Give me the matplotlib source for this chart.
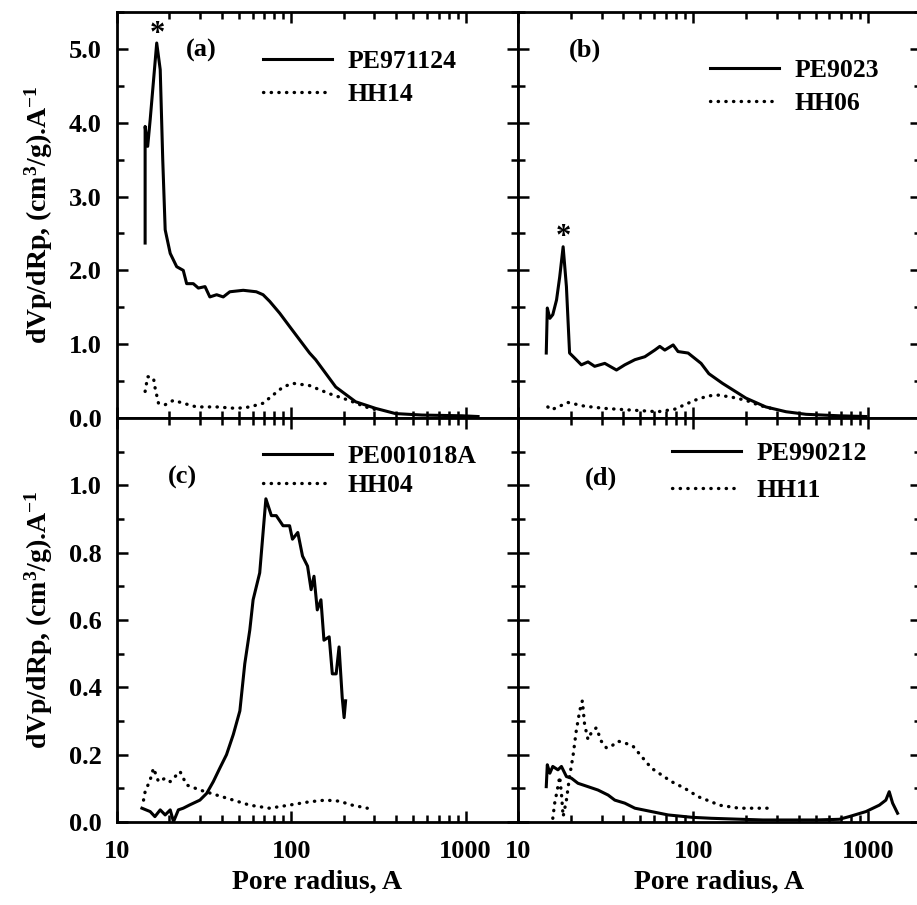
import numpy as np
import matplotlib
matplotlib.use('Agg')
import matplotlib.pyplot as plt
from matplotlib.ticker import FixedLocator, LogLocator, NullFormatter, FormatStrFormatter

plt.rcParams['font.family'] = 'Liberation Serif'
plt.rcParams['font.weight'] = 'bold'
plt.rcParams['mathtext.fontset'] = 'custom'
plt.rcParams['mathtext.rm'] = 'Liberation Serif:bold'
plt.rcParams['mathtext.it'] = 'Liberation Serif:bold'
plt.rcParams['mathtext.bf'] = 'Liberation Serif:bold'

# (a) PE971124 / HH14
a_pe_x = [14.5, 14.5, 15.0, 15.5, 16.9, 17.7, 18.3, 18.9, 20.2, 22.0, 24.0, 25.1, 27.4, 29.3, 32.0,
          34.1, 37.3, 40.7, 44.4, 53, 63, 68.9, 75.2, 85.8, 97.8, 106.8, 127.4, 138, 180, 234,
          305, 396, 562, 955, 1180]
a_pe_y = [2.37, 3.95, 3.68, 4.04, 5.08, 4.72, 3.50, 2.55, 2.23, 2.05, 2.0, 1.82, 1.82, 1.76, 1.78,
          1.64, 1.67, 1.64, 1.71, 1.73, 1.71, 1.67, 1.58, 1.42, 1.24, 1.12, 0.88, 0.79, 0.42, 0.22,
          0.13, 0.06, 0.04, 0.03, 0.02]
a_hh_x = [14.5, 15.0, 16.2, 16.5, 17.3, 18.9, 21.1, 24, 28.6, 37.3, 48.5, 57.8, 68.9, 78.5, 89.7,
          102, 127, 165, 214, 267, 320]
a_hh_y = [0.36, 0.56, 0.54, 0.42, 0.20, 0.18, 0.24, 0.20, 0.15, 0.15, 0.13, 0.15, 0.20, 0.31, 0.42,
          0.47, 0.44, 0.33, 0.24, 0.15, 0.10]

# (b) PE9023 / HH06
b_pe_x = [14.5, 14.7, 15.2, 15.8, 16.6, 17.3, 18.1, 18.9, 19.7, 21.1, 23.0, 25.1, 27.4, 31.3, 36.5,
          40.7, 46.5, 53, 60.4, 64.5, 68.9, 76.9, 82, 93.6, 111, 123, 147, 200, 260, 339, 441,
          682, 970]
b_pe_y = [0.88, 1.49, 1.35, 1.40, 1.60, 1.91, 2.32, 1.78, 0.88, 0.81, 0.72, 0.76, 0.70, 0.74, 0.65,
          0.72, 0.79, 0.83, 0.92, 0.97, 0.92, 0.99, 0.90, 0.88, 0.74, 0.60, 0.47, 0.27, 0.15, 0.085, 0.05,
          0.03, 0.02]
b_hh_x = [14.8, 15.5, 16.9, 19.3, 24, 31.3, 42.5, 63, 78.5, 89.6, 102, 122, 140, 168, 200, 240, 300]
b_hh_y = [0.15, 0.11, 0.15, 0.21, 0.16, 0.13, 0.11, 0.085, 0.12, 0.18, 0.24, 0.30, 0.31, 0.28, 0.24,
          0.17, 0.11]

# (c) PE001018A / HH04
c_pe_x = [13.9, 15.5, 16.5, 17.7, 18.9, 20.2, 21.1, 22.5, 24, 26.2, 29.9, 32.7, 35.7, 38.9, 42.5,
          46.5, 50.7, 54.1, 57.8, 60.4, 65.9, 71.5, 76.9, 82, 89.7, 97.8, 101.6, 109, 116, 124,
          130, 135, 141, 148, 154, 165, 172, 181, 188, 196, 201, 205]
c_pe_y = [0.041, 0.031, 0.016, 0.036, 0.021, 0.036, 0.001, 0.036, 0.041, 0.051, 0.065, 0.085, 0.12,
          0.16, 0.20, 0.26, 0.33, 0.47, 0.57, 0.66, 0.74, 0.96, 0.91, 0.91, 0.88, 0.88, 0.84, 0.86,
          0.79, 0.76, 0.69, 0.73, 0.63, 0.66, 0.54, 0.55, 0.44, 0.44, 0.52, 0.37, 0.31, 0.36]
c_hh_x = [14.2, 14.5, 15.5, 16.2, 17.3, 18.9, 20.2, 23, 25.1, 29.9, 37.3, 46.5, 57.8, 74.9, 97,
          127, 157, 188, 224, 273]
c_hh_y = [0.065, 0.09, 0.125, 0.16, 0.12, 0.13, 0.12, 0.15, 0.11, 0.095, 0.08, 0.065, 0.05, 0.041,
          0.05, 0.06, 0.065, 0.062, 0.05, 0.041]

# (d) PE990212 / HH11
d_pe_x = [14.5, 14.7, 15.2, 15.8, 16.9, 17.7, 18.9, 20.2, 22, 25.1, 28.6, 32.7, 35.7, 40.7, 46.5,
          57.8, 71.9, 98, 127, 250, 500, 682, 778, 970, 1156, 1260, 1317, 1377, 1470]
d_pe_y = [0.105, 0.17, 0.145, 0.165, 0.155, 0.165, 0.135, 0.13, 0.115, 0.105, 0.095, 0.08, 0.065,
          0.056, 0.041, 0.031, 0.021, 0.014, 0.011, 0.006, 0.006, 0.008, 0.016, 0.031, 0.05, 0.065,
          0.09, 0.056, 0.026]
d_hh_x = [15.8, 16.2, 16.9, 17.3, 17.7, 18.1, 18.9, 19.7, 20.6, 21.5, 22.5, 23.3, 24, 25.1, 26.2,
          28, 29.9, 32, 34.1, 37.3, 40.7, 45.4, 50.7, 57.8, 65.9, 75.2, 89.6, 107, 127, 141, 183,
          238, 284]
d_hh_y = [0.011, 0.056, 0.105, 0.135, 0.085, 0.016, 0.065, 0.135, 0.195, 0.27, 0.33, 0.36, 0.29,
          0.245, 0.265, 0.28, 0.24, 0.22, 0.225, 0.24, 0.235, 0.225, 0.195, 0.16, 0.14, 0.12, 0.10,
          0.075, 0.06, 0.05, 0.041, 0.041, 0.041]

panels = [
    ('(a)', a_pe_x, a_pe_y, 'PE971124', a_hh_x, a_hh_y, 'HH14'),
    ('(b)', b_pe_x, b_pe_y, 'PE9023', b_hh_x, b_hh_y, 'HH06'),
    ('(c)', c_pe_x, c_pe_y, 'PE001018A', c_hh_x, c_hh_y, 'HH04'),
    ('(d)', d_pe_x, d_pe_y, 'PE990212', d_hh_x, d_hh_y, 'HH11'),
]

W, H = 917, 905
fig = plt.figure(figsize=(W / 100, H / 100), dpi=100)

def box(l, t, r, b):
    return [l / W, 1 - b / H, (r - l) / W, (b - t) / H]

rects = [box(117, 12, 518, 418), box(518, 12, 921, 418),
         box(117, 418, 518, 822), box(518, 418, 921, 822)]

# label pos, legend anchor (x, top), labelspacing
lab_pos = [(0.21, 0.906), (0.167, 0.906), (0.162, 0.854), (0.205, 0.851)]
leg_pos = [(0.364, 0.906, 0.39), (0.476, 0.884, 0.39), (0.364, 0.934, 0.25), (0.382, 0.941, 0.55)]
star_pos = [(17.0, 5.2), (18.1, 2.45), None, None]

ylab = 'dVp/dRp, (cm$^{3}$/g).A$^{-1}$'
fs = 19

for i, (lab, px, py, pn, hx, hy, hn) in enumerate(panels):
    ax = fig.add_axes(rects[i])
    ax.plot(px, py, color='black', lw=2.2, label=pn)
    ax.plot(hx, hy, color='black', lw=2.4, linestyle=(0, (0.1, 2.2)),
            dash_capstyle='round', label=hn)
    ax.set_xscale('log')
    ax.set_xlim(10, 2000)
    if i < 2:
        ax.set_ylim(0, 5.5)
        ax.yaxis.set_major_locator(FixedLocator(np.arange(0, 5.01, 1.0)))
        ax.yaxis.set_minor_locator(FixedLocator(np.arange(0.5, 5.51, 1.0)))
    else:
        ax.set_ylim(0, 1.2)
        ax.yaxis.set_major_locator(FixedLocator(np.arange(0, 1.01, 0.2)))
        ax.yaxis.set_minor_locator(FixedLocator(np.arange(0.1, 1.11, 0.2)))
    ax.yaxis.set_major_formatter(FormatStrFormatter('%.1f'))
    ax.xaxis.set_minor_locator(LogLocator(base=10, subs=np.arange(2, 10), numticks=20))
    ax.xaxis.set_minor_formatter(NullFormatter())
    ax.tick_params(which='both', direction='in', top=True, right=True, width=1.8,
                   labelsize=fs)
    ax.tick_params(axis='y', pad=11)
    ax.tick_params(axis='x', pad=13)
    ax.tick_params(which='major', length=8)
    ax.tick_params(which='minor', length=5)
    for s in ax.spines.values():
        s.set_linewidth(2.0)
    if i % 2 == 1:
        ax.tick_params(labelleft=False)
    else:
        ax.set_ylabel(ylab, fontsize=20, fontweight='bold', labelpad=10)
    if i < 2:
        ax.tick_params(labelbottom=False)
    else:
        ax.set_xticks([10, 100, 1000])
        ax.set_xticklabels(['10', '100', '1000'])
        ax.set_xlabel('Pore radius, A', fontsize=20, fontweight='bold', labelpad=5)
    ax.text(lab_pos[i][0], lab_pos[i][1], lab, transform=ax.transAxes, fontsize=19,
            fontweight='bold', ha='center', va='center')
    if star_pos[i] is not None:
        ax.text(star_pos[i][0], star_pos[i][1], '*', fontsize=22, fontweight='bold',
                ha='center', va='center')
    lx, ly, sp = leg_pos[i]
    ax.legend(loc='upper left', bbox_to_anchor=(lx, ly), frameon=False, fontsize=18.5,
              handlelength=2.7, handletextpad=0.6, labelspacing=sp, borderpad=0,
              borderaxespad=0)

fig.savefig('out.png', dpi=100)
